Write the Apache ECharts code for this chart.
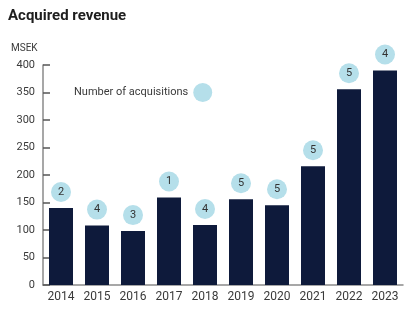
<!DOCTYPE html>
<html>
<head>
<meta charset="utf-8">
<script src="https://cdn.jsdelivr.net/npm/echarts@6/dist/echarts.min.js"></script>
<style>
  html, body { margin: 0; padding: 0; background: #fff; }
  #chart { width: 412px; height: 323px; }
</style>
</head>
<body>
<div id="chart"></div>
<script>
// Acquired revenue per year (MSEK) and the number of acquisitions behind it
const years = ['2014', '2015', '2016', '2017', '2018', '2019', '2020', '2021', '2022', '2023'];
const revenue = [140, 108, 98, 159, 109, 156, 145, 216, 356, 390];
const acquisitions = [2, 4, 3, 1, 4, 5, 5, 5, 5, 4];
const yTicks = [0, 50, 100, 150, 200, 250, 300, 350, 400];

const navy = '#0e1a3b';
const bubble = '#b5dfea';
const axisGrey = '#8a8a8a';
const textColor = '#3a3a3a';
const font = 'Roboto, "Liberation Sans", sans-serif';

const chart = echarts.init(document.getElementById('chart'), null, { renderer: 'canvas' });

chart.setOption({
  animation: false,
  textStyle: { fontFamily: font },
  title: [
    {
      text: 'Acquired revenue',
      left: 3, top: 4,
      textStyle: { fontSize: 15, fontWeight: 'bold', color: '#1e1e1e', fontFamily: font }
    },
    {
      text: 'MSEK',
      left: 6, top: 38,
      textStyle: { fontSize: 10, fontWeight: 'normal', color: textColor, fontFamily: font }
    }
  ],
  legend: {
    data: ['Number of acquisitions'],
    left: 69, top: 78,
    align: 'right',
    icon: 'circle',
    itemWidth: 19, itemHeight: 19,
    itemGap: 6,
    textStyle: { fontSize: 11, color: textColor, fontFamily: font }
  },
  grid: { left: 43, right: 9, top: 65, bottom: 38 },
  xAxis: {
    type: 'category',
    data: years,
    axisLine: { lineStyle: { color: axisGrey, width: 1.5 } },
    axisTick: { show: false },
    axisLabel: { color: textColor, fontSize: 12, margin: 6, fontFamily: font }
  },
  yAxis: {
    type: 'value',
    min: 0, max: 400, interval: 50,
    axisLine: { show: true, lineStyle: { color: axisGrey, width: 1.5 } },
    axisTick: { show: true, inside: true, length: 7, lineStyle: { color: '#555', width: 1.5 } },
    splitLine: { show: false },
    axisLabel: {
      color: textColor, fontSize: 11, margin: 8, fontFamily: font,
      formatter: v => (yTicks.includes(v) ? String(v) : '')
    }
  },
  series: [
    {
      name: 'Acquired revenue',
      type: 'bar',
      data: revenue,
      barWidth: 24,
      itemStyle: { color: navy }
    },
    {
      name: 'Number of acquisitions',
      type: 'scatter',
      data: revenue,
      symbol: 'circle',
      symbolSize: 20,
      symbolOffset: [0, -16],
      itemStyle: { color: bubble, opacity: 1 },
      z: 5,
      label: {
        show: true,
        position: 'inside',
        fontSize: 11,
        color: '#333',
        fontFamily: font,
        formatter: p => String(acquisitions[p.dataIndex])
      }
    }
  ]
});
</script>
</body>
</html>
